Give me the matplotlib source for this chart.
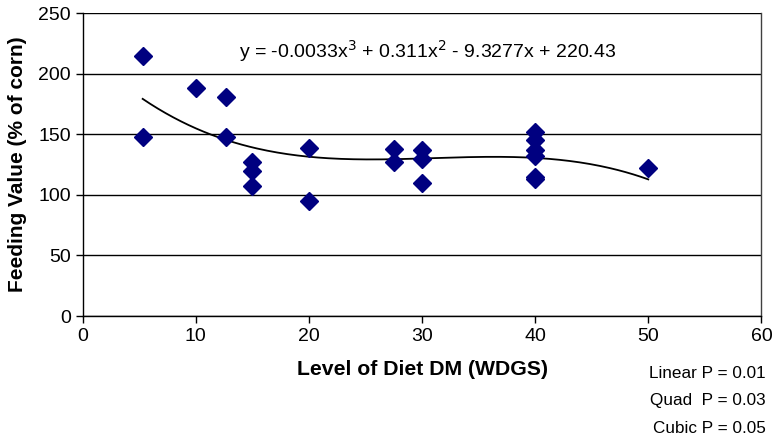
import numpy as np
import matplotlib.pyplot as plt

plt.rcParams['font.family'] = ['Liberation Sans', 'DejaVu Sans']

# niveau de WDGS (% MS) et valeur alimentaire (% du mais)
niveau = [5.3, 5.3, 10, 12.7, 12.7, 15, 15, 15, 20, 20,
          27.5, 27.5, 30, 30, 30, 40, 40, 40, 40, 40, 40, 50]
valeur = [215, 148, 188, 181, 148, 127, 120, 107, 139, 95,
          138, 127, 137, 130, 110, 152, 145, 137, 132, 115, 113, 122]

coef = [-0.00335, 0.311, -9.3277, 220.43]
equation = 'y = -0.0033x$^3$ + 0.311x$^2$ - 9.3277x + 220.43'
p_textes = ['Linear P = 0.01', 'Quad  P = 0.03', 'Cubic P = 0.05']

fig = plt.figure(figsize=(7.73, 4.36), dpi=100)
ax = fig.add_axes([0.107, 0.275, 0.878, 0.695])

xs = np.linspace(min(niveau), max(niveau), 200)
ax.plot(xs, np.polyval(coef, xs), color='black', lw=1.3, zorder=2)
ax.plot(niveau, valeur, 'D', color='#000080', markersize=9.5, zorder=3)

ax.set_xlim(0, 60)
ax.set_ylim(0, 250)
ax.set_xticks(range(0, 61, 10))
ax.set_yticks(range(0, 251, 50))
ax.yaxis.grid(True, color='black', lw=1)
ax.set_axisbelow(True)
for s in ax.spines.values():
    s.set_linewidth(1)
ax.spines['right'].set_color('#404040')
ax.spines['top'].set_visible(False)
ax.tick_params(labelsize=14, length=5, direction='out', width=1)
ax.tick_params(axis='x', top=False)

ax.set_xlabel('Level of Diet DM (WDGS)', fontsize=15.3, fontweight='bold', labelpad=11)
ax.set_ylabel('Feeding Value (% of corn)', fontsize=15, fontweight='bold', labelpad=8)

ax.text(13.8, 219, equation, fontsize=14, va='center', ha='left')

for i, t in enumerate(p_textes):
    fig.text(0.99, 1 - (373 + 27.5 * i) / 436, t, fontsize=12.3, ha='right', va='center')

fig.savefig('out.png', dpi=100)
